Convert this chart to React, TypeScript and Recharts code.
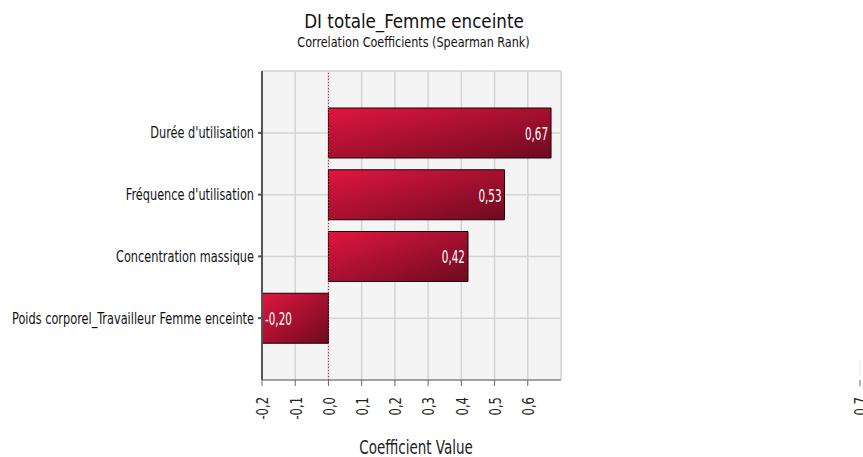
import {
    BarChart,
    Bar,
    XAxis,
    YAxis,
    CartesianGrid,
    ReferenceLine,
    LabelList
} from 'recharts';
import type {ReactNode} from 'react';

// valeurs
const inputs = [
    "Durée d'utilisation",
    "Fréquence d'utilisation",
    'Concentration massique',
    'Poids corporel_Travailleur Femme enceinte'
];
const coefficients = [0.67, 0.53, 0.42, -0.2];
const xTicks = [-0.2, -0.1, 0, 0.1, 0.2, 0.3, 0.4, 0.5, 0.6];

const chartData = inputs.map((name, i) => ({name, value: coefficients[i]}));

const FONT = '"DejaVu Sans Condensed", "DejaVu Sans", sans-serif';

const fmt = (v: number, digits: number) => v.toFixed(digits).replace('.', ',');

// texte compressé horizontalement (police étroite de l'original)
interface NarrowProps {
    x: number;
    y: number;
    sx: number;
    rotate?: number;
    size: number;
    anchor?: 'start' | 'middle' | 'end';
    baseline?: string;
    fill?: string;
    children: ReactNode;
}

const NarrowText = ({x, y, sx, rotate = 0, size, anchor = 'middle', baseline, fill = '#111', children}: NarrowProps) => (
    <text
        x={0}
        y={0}
        transform={`translate(${x},${y}) rotate(${rotate}) scale(${sx},1)`}
        textAnchor={anchor}
        dominantBaseline={baseline}
        fontSize={size}
        fontFamily={FONT}
        fill={fill}
    >
        {children}
    </text>
);

interface TickProps {
    x?: number;
    y?: number;
    payload?: { value: number | string };
}

const XTick = ({x = 0, y = 0, payload}: TickProps) => (
    <NarrowText x={x + 1} y={y + 9} sx={0.86} rotate={-90} size={15} anchor="end" baseline="central" fill="#222">
        {fmt(Number(payload ? payload.value : 0), 1)}
    </NarrowText>
);

const YTick = ({x = 0, y = 0, payload}: TickProps) => (
    <NarrowText x={x} y={y} sx={0.84} size={15} anchor="end" baseline="central" fill="#111">
        {payload ? String(payload.value) : ''}
    </NarrowText>
);

interface LabelProps {
    x?: number;
    y?: number;
    width?: number;
    height?: number;
    value?: number;
}

const BarValue = ({x = 0, y = 0, width = 0, height = 0, value = 0}: LabelProps) => {
    const left = Math.min(x, x + width);
    const right = Math.max(x, x + width);
    const pos = value >= 0;
    return (
        <NarrowText
            x={pos ? right - 3 : left + 3}
            y={y + height / 2 + 1}
            sx={0.68}
            size={17}
            anchor={pos ? 'end' : 'start'}
            baseline="central"
            fill="#fff"
        >
            {fmt(value, 2)}
        </NarrowText>
    );
};

const App = () => {
    return (
        <div style={{position: 'absolute', left: 0, top: 0, width: 863, height: 457, background: '#fff', overflow: 'hidden'}}>
            <BarChart
                width={863}
                height={457}
                data={chartData}
                layout="vertical"
                margin={{top: 71, right: 302, left: 0, bottom: 0}}
            >
                <defs>
                    <linearGradient id="barGrad" x1="0" y1="0" x2="1" y2="1">
                        <stop offset="0%" stopColor="#e0163f"/>
                        <stop offset="100%" stopColor="#6e0a20"/>
                    </linearGradient>
                </defs>
                <CartesianGrid fill="#f4f4f4" stroke="#d3d3d3" strokeWidth={1.5}/>
                <XAxis
                    type="number"
                    domain={[-0.2, 0.7]}
                    ticks={xTicks}
                    height={77}
                    stroke="#666"
                    tickSize={6}
                    tick={<XTick/>}
                    interval={0}
                />
                <YAxis
                    type="category"
                    dataKey="name"
                    width={262}
                    stroke="#555"
                    strokeWidth={2}
                    tickSize={4}
                    tickMargin={4}
                    padding={{top: 31, bottom: 31}}
                    interval={0}
                    tick={<YTick/>}
                />
                <ReferenceLine x={0} stroke="#c8103a" strokeDasharray="1 2"/>
                <Bar
                    dataKey="value"
                    barSize={50}
                    fill="url(#barGrad)"
                    stroke="#1a0006"
                    strokeWidth={1}
                    isAnimationActive={false}
                >
                    <LabelList dataKey="value" content={<BarValue/>}/>
                </Bar>
            </BarChart>

            <svg width={863} height={457} style={{position: 'absolute', left: 0, top: 0, pointerEvents: 'none'}}>
                <NarrowText x={414} y={27.5} sx={0.93} size={20}>DI totale_Femme enceinte</NarrowText>
                <NarrowText x={413.5} y={47} sx={0.89} size={14}>Correlation Coefficients (Spearman Rank)</NarrowText>
                <NarrowText x={416} y={454} sx={0.79} size={19} fill="#222">Coefficient Value</NarrowText>
                {/* étiquette isolée visible au bord droit de l'original */}
                <line x1={860} y1={360} x2={860} y2={376} stroke="#e4e4e4"/>
                <line x1={860} y1={380} x2={860} y2={386} stroke="#666"/>
                <NarrowText x={861} y={397} sx={0.86} rotate={-90} size={15} anchor="end" baseline="central" fill="#222">
                    0,7
                </NarrowText>
            </svg>
        </div>
    );
};

export default App;
